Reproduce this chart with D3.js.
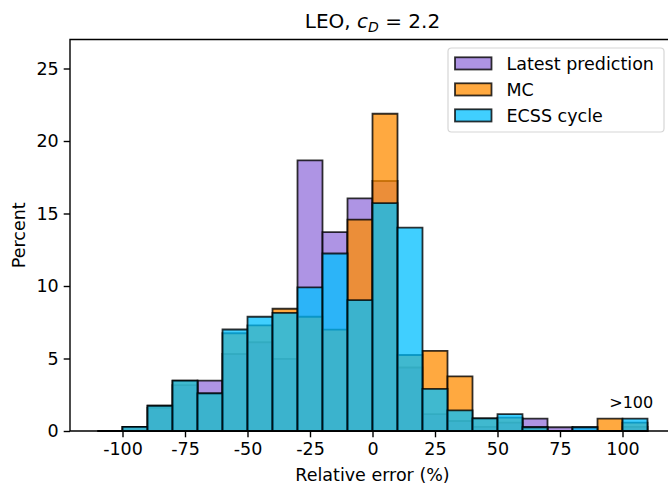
<!DOCTYPE html>
<html>
<head>
<meta charset="utf-8">
<script src="https://cdn.jsdelivr.net/npm/d3@7"></script>
<style>
  body { margin: 0; background: #fff; }
  svg text { font-family: "DejaVu Sans", sans-serif; fill: #000; }
</style>
</head>
<body>
<svg id="chart" width="668" height="484"></svg>
<script>
// bin left edges (width 10), last bin holds everything >100
const binStarts = [-110, -100, -90, -80, -70, -60, -50, -40, -30, -20, -10, 0, 10, 20, 30, 40, 50, 60, 70, 80, 90, 100];
const binWidth = 10;

const seriesNames = ["Latest prediction", "MC", "ECSS cycle"];
const seriesColors = ["#9370DB", "#FF8C00", "#00BFFF"];

const latest = [0, 0.29, 1.6, 3.17, 3.47, 5.31, 6.12, 4.97, 18.67, 13.72, 16.04, 17.24, 4.38, 1.16, 0.69, 0.29, 0.58, 0.85, 0.26, 0.26, 0, 0.29];
const mc     = [0, 0.29, 1.74, 3.47, 2.6, 6.74, 7.29, 8.43, 7.88, 6.99, 14.58, 21.88, 5.24, 5.53, 3.77, 0.87, 0.92, 0.26, 0, 0, 0.85, 0.58];
const ecss   = [0, 0.29, 1.74, 3.47, 2.6, 7.0, 7.88, 8.14, 9.9, 12.24, 9.03, 15.72, 14.02, 2.9, 1.42, 0.87, 1.16, 0.26, 0, 0.26, 0, 0.85];

const xTicks = [-100, -75, -50, -25, 0, 25, 50, 75, 100];
const yTicks = [0, 5, 10, 15, 20, 25];

(function () {
  const svg = d3.select("#chart");
  const mLeft = 70, mRight = 675, mTop = 39.5, mBottom = 431;

  const x = d3.scaleLinear().domain([-121, 121]).range([mLeft, mRight]);
  const y = d3.scaleLinear().domain([0, 27]).range([mBottom, mTop]);

  svg.append("defs").append("clipPath").attr("id", "plotclip")
    .append("rect").attr("x", mLeft).attr("y", mTop - 1).attr("width", mRight - mLeft).attr("height", mBottom - mTop + 2);

  const plot = svg.append("g").attr("clip-path", "url(#plotclip)");

  [latest, mc, ecss].forEach(function (vals, si) {
    plot.append("g").selectAll("path")
      .data(binStarts)
      .join("path")
      .attr("d", function (b, i) {
        const x0 = x(b), x1 = x(b + binWidth), y0 = y(0), y1 = y(vals[i]);
        return "M" + x0 + "," + y0 + "V" + y1 + "H" + x1 + "V" + y0 + "Z";
      })
      .attr("fill", seriesColors[si])
      .attr("fill-opacity", 0.75)
      .attr("stroke", "#000")
      .attr("stroke-opacity", 0.8)
      .attr("stroke-width", 1.8)
      .attr("stroke-linejoin", "miter");
  });

  // >100 marker
  svg.append("text")
    .attr("x", x(103.5)).attr("y", y(1.57))
    .attr("text-anchor", "middle")
    .style("font-size", "16px")
    .text(">100");

  // axes
  const xAxis = svg.append("g").attr("transform", "translate(0," + mBottom + ")")
    .call(d3.axisBottom(x).tickValues(xTicks).tickFormat(d => String(d)).tickSize(6.3).tickPadding(5));
  const yAxis = svg.append("g").attr("transform", "translate(" + mLeft + ",0)")
    .call(d3.axisLeft(y).tickValues(yTicks).tickSize(6.3).tickPadding(5));

  [xAxis, yAxis].forEach(function (ax) {
    ax.select(".domain").remove();
    ax.selectAll(".tick line").attr("stroke", "#000").attr("stroke-width", 1.4);
    ax.selectAll(".tick text").style("font-size", "17.5px").attr("fill", "#000");
  });
  xAxis.selectAll(".tick text").attr("dy", "0.71em");

  // spines (right spine falls outside the image)
  svg.append("path")
    .attr("d", "M" + mRight + "," + mTop + "H" + mLeft + "V" + mBottom + "H" + mRight)
    .attr("fill", "none").attr("stroke", "#000").attr("stroke-width", 1.4);

  // title
  const title = svg.append("text")
    .attr("x", (mLeft + mRight) / 2).attr("y", 28.3)
    .attr("text-anchor", "middle")
    .style("font-size", "20px");
  title.append("tspan").text("LEO, ");
  title.append("tspan").style("font-style", "italic").text("c");
  title.append("tspan").style("font-style", "italic").style("font-size", "14px").attr("dy", 4).text("D");
  title.append("tspan").attr("dy", -4).text(" = 2.2");

  // axis labels
  svg.append("text")
    .attr("x", (mLeft + mRight) / 2).attr("y", 481)
    .attr("text-anchor", "middle")
    .style("font-size", "17.5px")
    .text("Relative error (%)");

  svg.append("text")
    .attr("transform", "translate(25," + (mTop + mBottom) / 2 + ") rotate(-90)")
    .attr("text-anchor", "middle")
    .style("font-size", "17.5px")
    .text("Percent");

  // legend
  const legend = svg.append("g");
  legend.append("rect")
    .attr("x", 448).attr("y", 48).attr("width", 216).attr("height", 84)
    .attr("rx", 3.5)
    .attr("fill", "#fff").attr("fill-opacity", 0.8)
    .attr("stroke", "#d6d6d6").attr("stroke-width", 1.2);

  const rows = legend.selectAll("g.row")
    .data(seriesNames)
    .join("g")
    .attr("class", "row")
    .attr("transform", (d, i) => "translate(455," + (57.3 + i * 26) + ")");

  rows.append("rect")
    .attr("width", 36.5).attr("height", 12.2)
    .attr("fill", (d, i) => seriesColors[i]).attr("fill-opacity", 0.75)
    .attr("stroke", "#000").attr("stroke-opacity", 0.8).attr("stroke-width", 1.8);

  rows.append("text")
    .attr("x", 51.5).attr("y", 12.4)
    .style("font-size", "17.5px")
    .text(d => d);
})();
</script>
</body>
</html>
